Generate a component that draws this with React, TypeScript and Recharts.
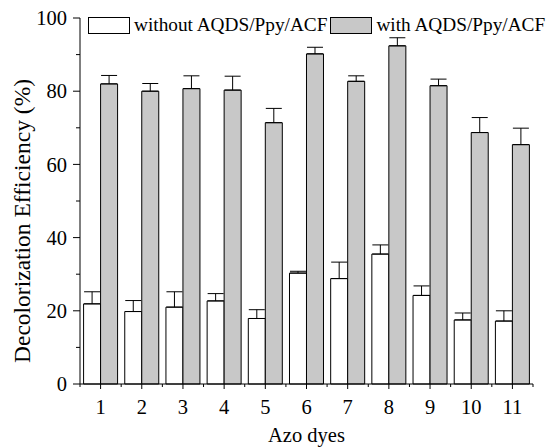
import React from 'react'
import { BarChart, Bar, XAxis, YAxis, ErrorBar, Legend } from 'recharts'

const dyes = ['1', '2', '3', '4', '5', '6', '7', '8', '9', '10', '11']
const withoutValues = [21.9, 19.8, 21.0, 22.7, 17.9, 30.3, 28.8, 35.5, 24.2, 17.5, 17.2]
const withoutErrors = [3.3, 3.0, 4.2, 2.0, 2.4, 0.5, 4.5, 2.5, 2.6, 1.9, 2.8]
const withValues = [82.0, 80.0, 80.7, 80.3, 71.4, 90.2, 82.7, 92.4, 81.5, 68.7, 65.4]
const withErrors = [2.3, 2.1, 3.5, 3.8, 3.9, 1.8, 1.5, 2.2, 1.8, 4.1, 4.5]
const yTicks = [0, 10, 20, 30, 40, 50, 60, 70, 80, 90, 100]

const FONT = '"Liberation Serif", "Times New Roman", serif'
const WIDTH = 547
const HEIGHT = 448
const MARGIN = { top: 18, right: 14, bottom: 0, left: 0 }
const Y_AXIS_W = 80
const X_AXIS_H = 64
const HALF_BAND = (WIDTH - MARGIN.right - Y_AXIS_W) / dyes.length / 2

const data = dyes.map((d, i) => ({
  dye: d,
  without: withoutValues[i],
  withAcf: withValues[i],
  errWithout: [0, withoutErrors[i]],
  errWith: [0, withErrors[i]],
}))

function YTick(props: any) {
  const { x, y, payload } = props
  const major = payload.value % 20 === 0
  return (
    <g>
      <line x1={x} x2={x - (major ? 7 : 4)} y1={y} y2={y} stroke="#000" />
      {major && (
        <text x={x - 13} y={y} dy="0.35em" textAnchor="end" fontSize={20.5} fontFamily={FONT} fill="#000">
          {payload.value}
        </text>
      )}
    </g>
  )
}

function XTick(props: any) {
  const { x, y, payload, index } = props
  return (
    <g>
      <line x1={x} x2={x} y1={y} y2={y + 5} stroke="#000" />
      <line x1={x - HALF_BAND} x2={x - HALF_BAND} y1={y} y2={y + 3} stroke="#000" />
      {index === dyes.length - 1 && (
        <line x1={x + HALF_BAND} x2={x + HALF_BAND} y1={y} y2={y + 3} stroke="#000" />
      )}
      <text x={x} y={y + 23} dy="0.35em" textAnchor="middle" fontSize={20.5} fontFamily={FONT} fill="#000">
        {payload.value}
      </text>
    </g>
  )
}

function LegendBox() {
  const items = [
    { label: 'without AQDS/Ppy/ACF', fill: '#ffffff' },
    { label: 'with AQDS/Ppy/ACF', fill: '#c8c8c8' },
  ]
  return (
    <div style={{ display: 'flex', alignItems: 'center', fontFamily: FONT, fontSize: 19.3, whiteSpace: 'nowrap' }}>
      {items.map((it) => (
        <div key={it.label} style={{ display: 'flex', alignItems: 'center', marginRight: 3 }}>
          <span
            style={{
              display: 'inline-block',
              width: 40,
              height: 15,
              background: it.fill,
              border: '1px solid #000',
              marginRight: 4,
            }}
          />
          <span>{it.label}</span>
        </div>
      ))}
    </div>
  )
}

export default function App() {
  return (
    <div style={{ position: 'absolute', left: 0, top: 0, background: '#fff' }}>
      <BarChart
        width={WIDTH}
        height={HEIGHT}
        data={data}
        margin={MARGIN}
        barCategoryGap="8.7%"
        barGap={0}
      >
        <XAxis
          dataKey="dye"
          height={X_AXIS_H}
          axisLine={{ stroke: '#000' }}
          tickLine={false}
          tickSize={0}
          tickMargin={0}
          tick={<XTick />}
          interval={0}
          label={{
            content: ({ viewBox }: any) => (
              <text
                x={viewBox.x + viewBox.width / 2}
                y={435}
                dy="0.35em"
                textAnchor="middle"
                fontSize={20.5}
                fontFamily={FONT}
                fill="#000"
              >
                Azo dyes
              </text>
            ),
          }}
        />
        <YAxis
          width={Y_AXIS_W}
          domain={[0, 100]}
          ticks={yTicks}
          interval={0}
          axisLine={{ stroke: '#000' }}
          tickLine={false}
          tickSize={0}
          tickMargin={0}
          tick={<YTick />}
          label={{
            content: () => {
              const cx = 22
              const cy = 221
              return (
                <text
                  x={cx}
                  y={cy}
                  dy="0.35em"
                  textAnchor="middle"
                  fontSize={23.5}
                  fontFamily={FONT}
                  fill="#000"
                  transform={`rotate(-90 ${cx} ${cy})`}
                >
                  Decolorization Efficiency (%)
                </text>
              )
            },
          }}
        />
        <Legend
          layout="horizontal"
          verticalAlign="middle"
          content={<LegendBox />}
          wrapperStyle={{ top: 14, left: 88, width: 470 }}
        />
        <Bar dataKey="without" fill="#ffffff" stroke="#000" strokeWidth={1} isAnimationActive={false}>
          <ErrorBar dataKey="errWithout" width={8} stroke="#000" strokeWidth={1} direction="y" />
        </Bar>
        <Bar dataKey="withAcf" fill="#c8c8c8" stroke="#000" strokeWidth={1} isAnimationActive={false}>
          <ErrorBar dataKey="errWith" width={8} stroke="#000" strokeWidth={1} direction="y" />
        </Bar>
      </BarChart>
    </div>
  )
}
